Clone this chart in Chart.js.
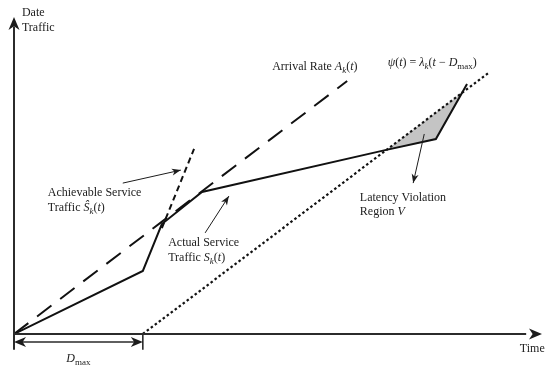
<!DOCTYPE html>
<html>
<head>
<meta charset="utf-8">
<script src="https://cdn.jsdelivr.net/npm/chart.js@4/dist/chart.umd.min.js"></script>
<style>
body { margin: 0; background: #fff; }
#wrap { width: 550px; height: 368px; }
</style>
</head>
<body>
<div id="wrap"><canvas id="canvas"></canvas></div>
<script>
// curves in time / traffic units (both axes 0-100)
var actualX = [0, 24.4, 28.0, 35.6, 70.3, 79.9, 85.8];
var actualY = [0, 19.9, 34.7, 44.8, 58.0, 61.5, 78.9];
var arrivalX = [0, 63.1];
var arrivalY = [0, 79.8];
var achievableX = [28.0, 34.1];
var achievableY = [33.4, 58.4];
var psiX = [24.4, 89.8];
var psiY = [0, 82.3];
// latency violation region = actual service under psi(t)
var violationX = [70.3, 79.9, 84.95];
var violationY = [57.8, 61.5, 76.4];
var dMax = 24.4;

function pts(xs, ys) {
  var out = [];
  for (var i = 0; i < xs.length; i++) out.push({x: xs[i], y: ys[i]});
  return out;
}

// text labels, runs = [text, style]  n normal, i italic, is italic subscript, s subscript
var labels = [
  {x: 1.5, y: 100.3, runs: [['Date', 'n']]},
  {x: 1.5, y: 95.6, runs: [['Traffic', 'n']]},
  {x: 48.9, y: 83.3, runs: [['Arrival Rate ', 'n'], ['A', 'i'], ['k', 'is'], ['(', 'n'], ['t', 'i'], [')', 'n']]},
  {x: 70.8, y: 84.5, runs: [['\u03C8', 'i'], ['(', 'n'], ['t', 'i'], [') = ', 'n'], ['\u03BB', 'i'], ['k', 'is'], ['(', 'n'], ['t', 'i'], [' \u2212 ', 'n'], ['D', 'i'], ['max', 's'], [')', 'n']]},
  {x: 6.4, y: 43.5, runs: [['Achievable Service', 'n']]},
  {x: 6.4, y: 38.8, runs: [['Traffic ', 'n'], ['\u015C', 'i'], ['k', 'is'], ['(', 'n'], ['t', 'i'], [')', 'n']]},
  {x: 29.2, y: 27.8, runs: [['Actual Service', 'n']]},
  {x: 29.2, y: 23.0, runs: [['Traffic ', 'n'], ['S', 'i'], ['k', 'is'], ['(', 'n'], ['t', 'i'], [')', 'n']]},
  {x: 65.5, y: 42.0, runs: [['Latency Violation', 'n']]},
  {x: 65.5, y: 37.5, runs: [['Region ', 'n'], ['V', 'i']]},
  {x: 95.8, y: -5.7, runs: [['Time', 'n']]}
];

var arrows = [
  {from: [20.6, 47.6], to: [31.6, 51.7]},
  {from: [36.2, 31.9], to: [40.7, 43.5]},
  {from: [77.7, 63.1], to: [75.6, 47.6]}
];

var FONT = '"Liberation Serif", "Times New Roman", serif';

function head(ctx, x, y, ang, len, w) {
  ctx.save();
  ctx.translate(x, y);
  ctx.rotate(ang);
  ctx.beginPath();
  ctx.moveTo(0, 0);
  ctx.lineTo(-len, -w);
  ctx.lineTo(-len * 0.72, 0);
  ctx.lineTo(-len, w);
  ctx.closePath();
  ctx.fill();
  ctx.restore();
}

function arrowLine(ctx, x1, y1, x2, y2, len, w) {
  ctx.beginPath();
  ctx.moveTo(x1, y1);
  ctx.lineTo(x2, y2);
  ctx.stroke();
  head(ctx, x2, y2, Math.atan2(y2 - y1, x2 - x1), len, w);
}

function richText(ctx, x, y, runs, size) {
  var cx = x;
  runs.forEach(function (r) {
    var style = r[1];
    var italic = style.indexOf('i') >= 0;
    var sub = style.indexOf('s') >= 0;
    var fs = sub ? size * 0.75 : size;
    ctx.font = (italic ? 'italic ' : '') + fs + 'px ' + FONT;
    ctx.fillText(r[0], cx, sub ? y + size * 0.28 : y);
    cx += ctx.measureText(r[0]).width;
  });
}

var sketchPlugin = {
  id: 'sketch',
  afterDatasetsDraw: function (chart) {
    var ctx = chart.ctx;
    var sx = chart.scales.x, sy = chart.scales.y;
    function px(v) { return sx.getPixelForValue(v); }
    function py(v) { return sy.getPixelForValue(v); }
    ctx.save();
    ctx.strokeStyle = '#2b2b2b';
    ctx.fillStyle = '#1c1c1c';
    ctx.lineWidth = 2;
    // axes
    ctx.beginPath();
    ctx.moveTo(px(0), py(-5));
    ctx.lineTo(px(0), py(97));
    ctx.stroke();
    head(ctx, px(0), py(100), -Math.PI / 2, 13, 5.5);
    ctx.beginPath();
    ctx.moveTo(px(0), py(0));
    ctx.lineTo(px(97), py(0));
    ctx.stroke();
    head(ctx, px(100), py(0), 0, 13, 5.5);
    // D_max bracket
    ctx.lineWidth = 1.6;
    ctx.beginPath();
    ctx.moveTo(px(dMax), py(0));
    ctx.lineTo(px(dMax), py(-5));
    ctx.moveTo(px(0) + 6, py(-2.5));
    ctx.lineTo(px(dMax) - 6, py(-2.5));
    ctx.stroke();
    head(ctx, px(0), py(-2.5), Math.PI, 12, 5);
    head(ctx, px(dMax), py(-2.5), 0, 12, 5);
    // pointer arrows
    ctx.lineWidth = 1;
    ctx.strokeStyle = '#1c1c1c';
    arrows.forEach(function (a) {
      arrowLine(ctx, px(a.from[0]), py(a.from[1]), px(a.to[0]), py(a.to[1]), 9, 3.5);
    });
    // text
    ctx.fillStyle = '#222';
    ctx.textBaseline = 'alphabetic';
    ctx.textAlign = 'left';
    labels.forEach(function (l) {
      richText(ctx, px(l.x), py(l.y), l.runs, 12);
    });
    // D_max label centred under bracket
    ctx.font = 'italic 12px ' + FONT;
    var w1 = ctx.measureText('D').width;
    ctx.font = '9px ' + FONT;
    var w2 = ctx.measureText('max').width;
    var lx = px(dMax / 2) - (w1 + w2) / 2;
    richText(ctx, lx, py(-8.8), [['D', 'i'], ['max', 's']], 12);
    ctx.restore();
  }
};

var lineBase = {pointRadius: 0, borderColor: '#111', backgroundColor: '#111', tension: 0, fill: false, order: 0};

var ctx = document.getElementById('canvas').getContext('2d');
window.myChart = new Chart(ctx, {
  type: 'line',
  data: {
    datasets: [
      Object.assign({}, lineBase, {label: 'Actual Service', data: pts(actualX, actualY), borderWidth: 2}),
      Object.assign({}, lineBase, {label: 'Arrival Rate', data: pts(arrivalX, arrivalY), borderWidth: 2, borderDash: [18, 11]}),
      Object.assign({}, lineBase, {label: 'Achievable Service', data: pts(achievableX, achievableY), borderWidth: 2, borderDash: [6, 4]}),
      Object.assign({}, lineBase, {label: 'psi', data: pts(psiX, psiY), borderWidth: 2.2, borderDash: [2.5, 2.5]}),
      {label: 'Violation', data: pts(violationX, violationY), pointRadius: 0, borderWidth: 0,
       borderColor: 'rgba(0,0,0,0)', backgroundColor: '#c4c4c4', fill: 3, tension: 0, order: 10}
    ]
  },
  options: {
    responsive: true,
    maintainAspectRatio: false,
    animation: false,
    layout: {padding: {left: 14, top: 17, right: 8, bottom: 34}},
    plugins: {legend: {display: false}, tooltip: {enabled: false}},
    scales: {
      x: {type: 'linear', min: 0, max: 100, display: false},
      y: {type: 'linear', min: 0, max: 100, display: false}
    }
  },
  plugins: [sketchPlugin]
});
</script>
</body>
</html>
